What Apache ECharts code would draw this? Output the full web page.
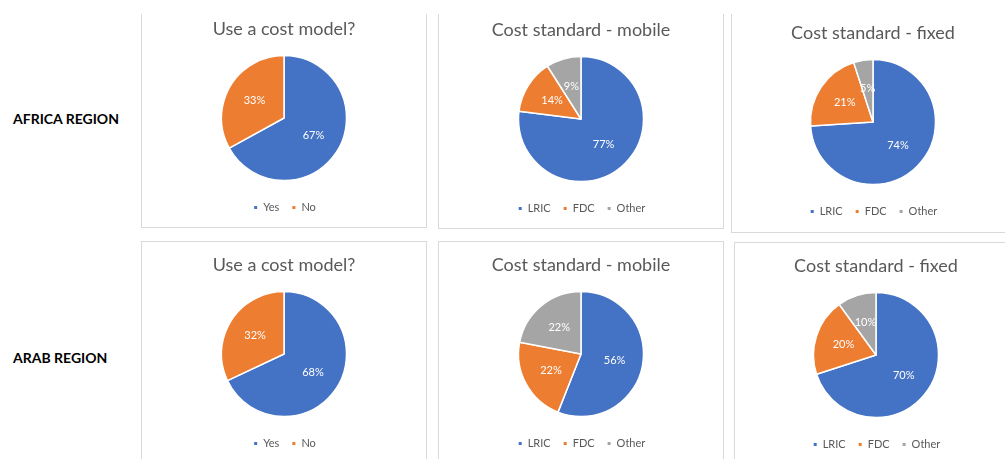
<!DOCTYPE html>
<html>
<head>
  <meta charset="utf-8">
  <title>Cost model survey</title>
  <script src="https://cdn.jsdelivr.net/npm/echarts@6.0.0/dist/echarts.min.js"></script>
  <style>
    body { margin: 0; background: #fff; width: 1005px; height: 459px; overflow: hidden; position: relative; font-family: Lato, sans-serif; }
    .box { position: absolute; box-sizing: border-box; border: 1px solid #d9d9d9; }
    .box.top { border-top: none; }
    .chart { position: absolute; width: 284px; height: 225px; }
    .row-label { position: absolute; left: 13px; font: bold 14px Lato, sans-serif; color: #000; line-height: 16px; }
  </style>
</head>
<body>
  <div class="box top" style="left:141px;top:14px;width:286px;height:214px"></div>
  <div class="box top" style="left:438px;top:14px;width:286px;height:215px"></div>
  <div class="box top" style="left:731px;top:14px;width:290px;height:219px"></div>
  <div class="box" style="left:141px;top:241px;width:286px;height:240px"></div>
  <div class="box" style="left:438px;top:241px;width:286px;height:240px"></div>
  <div class="box" style="left:734px;top:242px;width:290px;height:240px"></div>

  <div class="row-label" style="top:111px">AFRICA REGION</div>
  <div class="row-label" style="top:350px">ARAB REGION</div>

  <div id="c1" class="chart" style="left:142px;top:5px"></div>
  <div id="c2" class="chart" style="left:439px;top:6px"></div>
  <div id="c3" class="chart" style="left:731px;top:9px"></div>
  <div id="c4" class="chart" style="left:142px;top:241px"></div>
  <div id="c5" class="chart" style="left:439px;top:241px"></div>
  <div id="c6" class="chart" style="left:734px;top:242px"></div>

  <script>
    // categories
    const yesNo = ['Yes', 'No'];
    const standards = ['LRIC', 'FDC', 'Other'];

    // values (%)
    const africaModel = [67, 33];
    const africaMobile = [77, 14, 9];
    const africaFixed = [74, 21, 5];
    const arabModel = [68, 32];
    const arabMobile = [56, 22, 22];
    const arabFixed = [70, 20, 10];

    const titles = ['Use a cost model?', 'Cost standard - mobile', 'Cost standard - fixed'];
    const colors = ['#4472C4', '#ED7D31', '#A5A5A5'];
    const grey = '#595959';

    function makePie(id, title, names, values) {
      const chart = echarts.init(document.getElementById(id));
      chart.setOption({
        animation: false,
        color: colors,
        title: {
          text: title,
          left: 'center',
          top: 10,
          textStyle: { fontFamily: 'Lato', fontSize: 18, fontWeight: 'normal', color: grey }
        },
        legend: {
          data: names,
          left: 'center',
          top: 192,
          icon: 'rect',
          itemWidth: 5,
          itemHeight: 5,
          itemGap: 11,
          textStyle: { fontFamily: 'Lato', fontSize: 11, color: grey }
        },
        series: [{
          type: 'pie',
          center: [142, 113],
          radius: 62.5,
          startAngle: 90,
          clockwise: true,
          itemStyle: { borderColor: '#fff', borderWidth: 1.5 },
          label: {
            position: 'inside',
            formatter: '{c}%',
            color: '#fff',
            fontFamily: 'Lato',
            fontSize: 11
          },
          labelLine: { show: false },
          emphasis: { disabled: true },
          data: names.map((n, i) => ({ name: n, value: values[i] }))
        }]
      });
      return chart;
    }

    makePie('c1', titles[0], yesNo, africaModel);
    makePie('c2', titles[1], standards, africaMobile);
    makePie('c3', titles[2], standards, africaFixed);
    makePie('c4', titles[0], yesNo, arabModel);
    makePie('c5', titles[1], standards, arabMobile);
    makePie('c6', titles[2], standards, arabFixed);
  </script>
</body>
</html>
